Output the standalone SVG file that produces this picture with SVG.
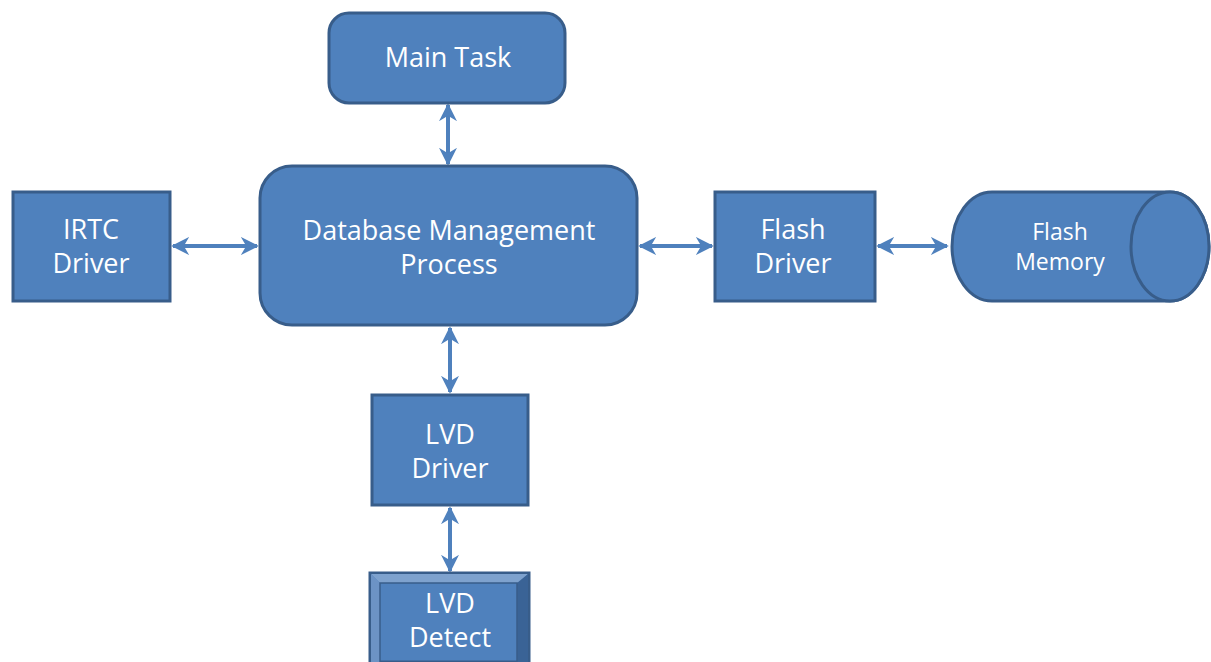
<svg xmlns="http://www.w3.org/2000/svg" width="1211" height="662" viewBox="0 0 1211 662">
<defs>
<style>
.box{fill:#4F81BD;stroke:#385D8A;stroke-width:3}
.t{font-family:"Open Sans","Liberation Sans",sans-serif;font-size:27px;fill:#ffffff;text-anchor:middle}
.ts{font-family:"Open Sans","Liberation Sans",sans-serif;font-size:23px;fill:#ffffff;text-anchor:middle}
.c{stroke:#4F81BD;stroke-width:4;fill:none;marker-start:url(#a);marker-end:url(#a)}
</style>
<marker id="a" viewBox="0 0 10 10" refX="9" refY="5" markerWidth="4.5" markerHeight="4.5" orient="auto-start-reverse" markerUnits="strokeWidth">
<path d="M0,0 L10,5 L0,10 L3,5 Z" fill="#4F81BD"/>
</marker>
</defs>
<rect width="1211" height="662" fill="#ffffff"/>
<g id="connectors">
<line class="c" x1="448" y1="105" x2="448" y2="164"/>
<line class="c" x1="173" y1="246" x2="257" y2="246"/>
<line class="c" x1="640" y1="246" x2="712" y2="246"/>
<line class="c" x1="878" y1="246" x2="947" y2="246"/>
<line class="c" x1="450" y1="328" x2="450" y2="392"/>
<line class="c" x1="450" y1="508" x2="450" y2="571"/>
</g>
<g id="main-task">
<rect class="box" x="329" y="13" width="236" height="90" rx="20"/>
<text class="t" x="448" y="67">Main Task</text>
</g>
<g id="dbmp">
<rect class="box" x="260" y="166" width="377" height="159" rx="32"/>
<text class="t" x="449" y="240">Database Management</text>
<text class="t" x="449" y="274">Process</text>
</g>
<g id="irtc">
<rect class="box" x="13" y="192" width="157" height="109"/>
<text class="t" x="91" y="239">IRTC</text>
<text class="t" x="91" y="273">Driver</text>
</g>
<g id="flash-driver">
<rect class="box" x="715" y="192" width="160" height="109"/>
<text class="t" x="793" y="239">Flash</text>
<text class="t" x="793" y="273">Driver</text>
</g>
<g id="flash-memory">
<path class="box" d="M992,192 H1170 A39,54.5 0 0 1 1170,301 H992 A40,54.5 0 0 1 992,192 Z"/>
<ellipse class="box" cx="1170" cy="246.5" rx="39" ry="54.5"/>
<text class="ts" x="1060" y="240">Flash</text>
<text class="ts" x="1060" y="270">Memory</text>
</g>
<g id="lvd-driver">
<rect class="box" x="372" y="395" width="156" height="110"/>
<text class="t" x="450" y="444">LVD</text>
<text class="t" x="450" y="478">Driver</text>
</g>
<g id="lvd-detect">
<rect x="370" y="573" width="159" height="89" fill="#4F81BD" stroke="#385D8A" stroke-width="3"/>
<polygon points="371,574 528,574 519,583 380,583" fill="#7EA2CE"/>
<polygon points="371,574 380,583 380,662 371,662" fill="#6C93C5"/>
<polygon points="528,574 528,662 517,662 517,583" fill="#3A6396"/>
<rect x="380" y="583" width="137" height="79" fill="none" stroke="#385D8A" stroke-width="1.5"/>
<text class="t" x="450" y="613">LVD</text>
<text class="t" x="450" y="647">Detect</text>
</g>
</svg>
